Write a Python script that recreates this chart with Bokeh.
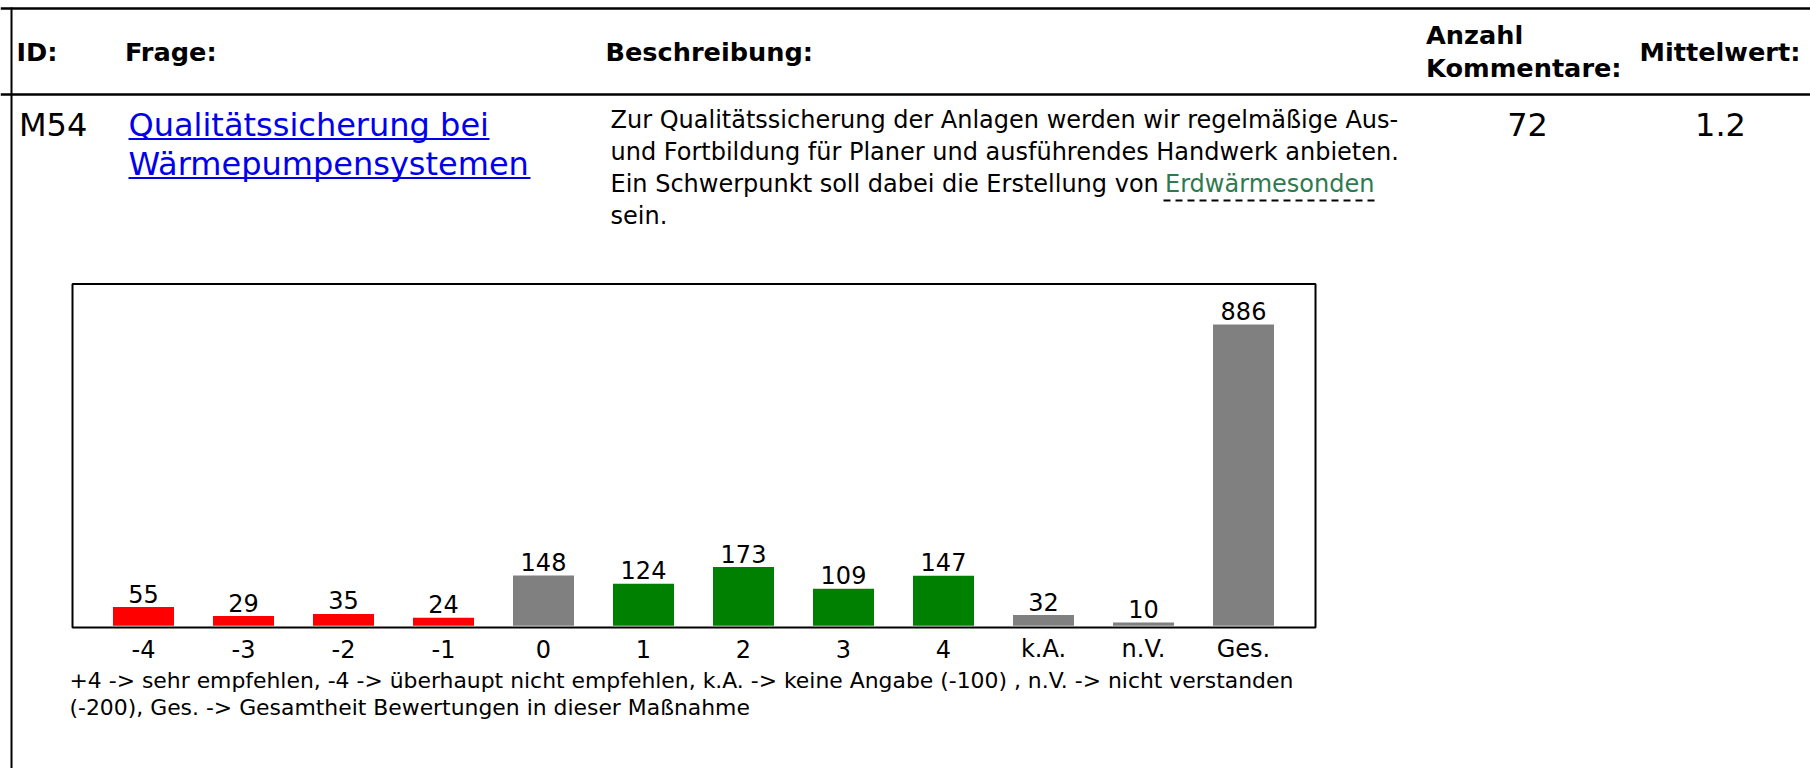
from bokeh.plotting import figure
from bokeh.models import Range1d, ColumnDataSource
from bokeh.embed import file_html
from bokeh.resources import INLINE
from bokeh.core.properties import value

# ---------------- data ----------------
categories = ["-4", "-3", "-2", "-1", "0", "1", "2", "3", "4", "k.A.", "n.V.", "Ges."]
counts = [55, 29, 35, 24, 148, 124, 173, 109, 147, 32, 10, 886]
bar_colors = ["#ff0000", "#ff0000", "#ff0000", "#ff0000", "#808080",
              "#008000", "#008000", "#008000", "#008000",
              "#808080", "#808080", "#808080"]

header_id = "ID:"
header_question = "Frage:"
header_description = "Beschreibung:"
header_comments = ["Anzahl", "Kommentare:"]
header_mean = "Mittelwert:"

measure_id = "M54"
question_lines = ["Qualitätssicherung bei", "Wärmepumpensystemen"]
description_lines = [
    "Zur Qualitätssicherung der Anlagen werden wir regelmäßige Aus-",
    "und Fortbildung für Planer und ausführendes Handwerk anbieten.",
    "Ein Schwerpunkt soll dabei die Erstellung von ",
    "sein.",
]
description_term = "Erdwärmesonden"
n_comments = "72"
mean_value = "1.2"
note_lines = [
    "+4 -> sehr empfehlen, -4 -> überhaupt nicht empfehlen, k.A. -> keine Angabe (-100) , n.V. -> nicht verstanden",
    "(-200), Ges. -> Gesamtheit Bewertungen in dieser Maßnahme",
]

# ---------------- page geometry (pixels) ----------------
FONT = "DejaVu Sans"
PAGE_W, PAGE_H = 1810, 768
BORDER_X, BORDER_W = 11, 2
BASE_SHIFT = 0.35   # em correction so that text sits on the wanted baseline

# chart box and scale
BOX_L, BOX_R, BOX_T, BOX_B = 72, 1315, 283.5, 627
CAT0_X, CAT_STEP = 143, 100          # pixel centre of first category, pixels per category
ZERO_Y, PX_PER_COUNT = 625.3, 0.3401  # pixel row of count 0, pixels per count

p = figure(width=PAGE_W, height=PAGE_H,
           x_range=Range1d(0, PAGE_W), y_range=Range1d(PAGE_H, 0),
           output_backend="svg", toolbar_location=None,
           x_axis_location=None, y_axis_location=None,
           min_border=0, outline_line_color=None)
p.grid.visible = False
p.background_fill_color = "white"
p.border_fill_color = "white"

# chart scales as extra ranges (category index / counts)
p.extra_x_ranges = {"cat": Range1d(-CAT0_X / CAT_STEP, (PAGE_W - CAT0_X) / CAT_STEP)}
p.extra_y_ranges = {"cnt": Range1d(-(PAGE_H - ZERO_Y) / PX_PER_COUNT, ZERO_Y / PX_PER_COUNT)}


def txt(x, y, s, size, color="black", bold=False, align="left"):
    px = float(size.replace("px", ""))
    p.text(x=[x], y=[y - BASE_SHIFT * px], text=[s], text_font=value(FONT),
           text_font_size=size, text_color=color,
           text_font_style="bold" if bold else "normal",
           text_align=align, text_baseline="alphabetic")


# ---------------- table ----------------
p.segment(x0=[0, 0], y0=[8, 94], x1=[PAGE_W, PAGE_W], y1=[8, 94],
          line_color="black", line_width=2.6)
p.segment(x0=[BORDER_X], y0=[7], x1=[BORDER_X], y1=[PAGE_H], line_color="black",
          line_width=BORDER_W)

H = "25.6px"
txt(16, 60.5, header_id, H, bold=True)
txt(124.5, 60.5, header_question, H, bold=True)
txt(605, 60.5, header_description, H, bold=True)
txt(1425.5, 43.5, header_comments[0], H, bold=True)
txt(1425.5, 76.5, header_comments[1], H, bold=True)
txt(1639, 60.5, header_mean, H, bold=True)

txt(18.5, 136, measure_id, "32px")
link_blue = "#0000ee"
txt(128, 136, question_lines[0], "32px", color=link_blue)
txt(128, 175, question_lines[1], "32px", color=link_blue)
p.segment(x0=[128, 128], y0=[138.5, 177.5], x1=[489, 530], y1=[138.5, 177.5],
          line_color=link_blue, line_width=2)

D = "24px"
desc_base = [127.5, 159.5, 191.5, 223.5]
for s, yb in zip(description_lines, desc_base):
    txt(610, yb, s, D)
txt(1164.5, desc_base[2], description_term, D, color="#2e7a4e")
p.segment(x0=[1163], y0=[200], x1=[1375], y1=[200], line_color="black",
          line_width=2, line_dash="7 5")

txt(1527, 135, n_comments, "32px", align="center")
txt(1720, 135, mean_value, "32px", align="center")

# ---------------- bar chart ----------------
src = ColumnDataSource(dict(pos=list(range(len(categories))), cat=categories, count=counts,
                            color=bar_colors, label=[str(c) for c in counts]))

p.vbar(x="pos", top="count", bottom=0, width=0.61, fill_color="color", line_color=None,
       source=src, x_range_name="cat", y_range_name="cnt")
p.text(x="pos", y="count", text="label", y_offset=-5 - BASE_SHIFT * 24,
       text_align="center", text_baseline="alphabetic", text_font=value(FONT),
       text_font_size="24px", text_color="black", source=src,
       x_range_name="cat", y_range_name="cnt")
# category tick labels below the box
p.text(x="pos", y=657 - BASE_SHIFT * 24, text="cat", text_align="center",
       text_baseline="alphabetic", text_font=value(FONT), text_font_size="24px",
       text_color="black", source=src, x_range_name="cat")
# chart frame
p.quad(left=[BOX_L], right=[BOX_R], top=[BOX_T], bottom=[BOX_B], fill_color=None,
       line_color="black", line_width=2)

# ---------------- note ----------------
N = "21.9px"
txt(69, 688, note_lines[0], N)
txt(69, 715, note_lines[1], N)

open("out.html", "w").write(file_html(p, INLINE))
